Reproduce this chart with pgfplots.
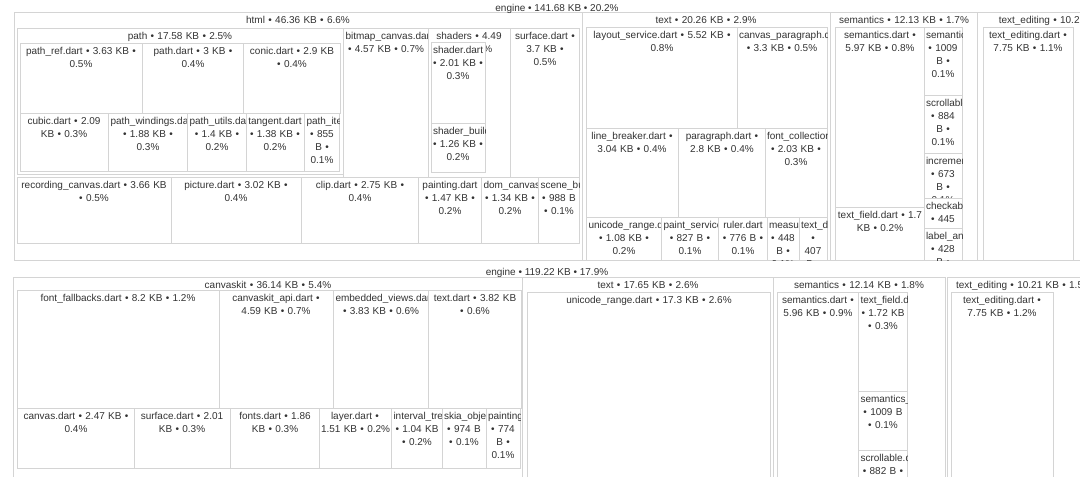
\documentclass[border=0pt]{standalone}
\usepackage{fontspec}
\setmainfont{Liberation Sans}
\usepackage{pgfplots}
\pgfplotsset{compat=1.18}

\tikzset{lbl/.style={anchor=north, inner sep=0pt, align=center, text=black!80,
  font=\fontsize{10}{13}\selectfont, yshift=-4.5pt}}
\pgfplotsset{tile/.style={draw=black!17, fill=white, line width=0.9pt, mark=none}}

% one treemap cell: x0, y0, x1, y1 (pixels, y down), label
\newcommand\tile[5]{%
  \addplot[tile] coordinates {(#1,#2) (#3,#2) (#3,#4) (#1,#4) (#1,#2)};%
  \edef\tilecmd{\noexpand\pgfplotsextra{\noexpand\begin{scope}\noexpand\clip (axis cs:#1,#2) rectangle (axis cs:#3,#4);%
    \noexpand\node[lbl,text width=\the\numexpr#3-#1-4\relax pt] at (axis cs:\the\numexpr(#1+#3)/2\relax,#2) {\unexpanded{#5}};\noexpand\end{scope}}}%
  \tilecmd}

\begin{document}
\hyphenpenalty=10000 \exhyphenpenalty=10000
\begin{tikzpicture}
\begin{axis}[scale only axis, width=1080pt, height=477pt,
  xmin=0, xmax=1080, ymin=0, ymax=477, y dir=reverse, hide axis, clip=true]

% ---- top: html
\tile{14}{12}{582}{260}{html~•~46.36~KB~•~6.6\%}
\tile{17}{28}{343}{174}{path~•~17.58~KB~•~2.5\%}
\tile{20}{43}{142}{113}{path\_ref.dart~•~3.63~KB~•\\0.5\%}
\tile{142}{43}{243}{113}{path.dart~•~3~KB~•\\0.4\%}
\tile{243}{43}{340}{113}{conic.dart~•~2.9~KB\\•~0.4\%}
\tile{20}{113}{108}{171}{cubic.dart~•~2.09\\KB~•~0.3\%}
\tile{108}{113}{187}{171}{path\_windings.dart\\•~1.88~KB~•\\0.3\%}
\tile{187}{113}{246}{171}{path\_utils.dart\\•~1.4~KB~•\\0.2\%}
\tile{246}{113}{304}{171}{tangent.dart\\•~1.38~KB~•\\0.2\%}
\tile{304}{113}{339}{171}{path\_iterator.dart\\•~855\\B~•\\0.1\%}
\tile{343}{28}{428}{177}{bitmap\_canvas.dart\\•~4.57~KB~•~0.7\%}
\tile{428}{28}{510}{177}{shaders~•~4.49\\KB~•~0.6\%}
\tile{431}{42}{485}{123}{shader.dart\\•~2.01~KB~•\\0.3\%}
\tile{431}{123}{485}{172}{shader\_builder.dart\\•~1.26~KB~•\\0.2\%}
\tile{510}{28}{579}{177}{surface.dart~•\\3.7~KB~•\\0.5\%}
\tile{17}{177}{171}{243}{recording\_canvas.dart~•~3.66~KB\\•~0.5\%}
\tile{171}{177}{301}{243}{picture.dart~•~3.02~KB~•\\0.4\%}
\tile{301}{177}{418}{243}{clip.dart~•~2.75~KB~•\\0.4\%}
\tile{418}{177}{481}{243}{painting.dart\\•~1.47~KB~•\\0.2\%}
\tile{481}{177}{538}{243}{dom\_canvas.dart\\•~1.34~KB~•\\0.2\%}
\tile{538}{177}{579}{243}{scene\_builder.dart\\•~988~B\\•~0.1\%}

% ---- top: text
\tile{582}{12}{830}{260}{text~•~20.26~KB~•~2.9\%}
\tile{586}{27}{737}{128}{layout\_service.dart~•~5.52~KB~•\\0.8\%}
\tile{737}{27}{827}{128}{canvas\_paragraph.dart\\•~3.3~KB~•~0.5\%}
\tile{586}{128}{678}{217}{line\_breaker.dart~•\\3.04~KB~•~0.4\%}
\tile{678}{128}{765}{217}{paragraph.dart~•\\2.8~KB~•~0.4\%}
\tile{765}{128}{827}{217}{font\_collection.dart\\•~2.03~KB~•\\0.3\%}
\tile{586}{217}{661}{260}{unicode\_range.dart\\•~1.08~KB~•\\0.2\%}
\tile{661}{217}{718}{260}{paint\_service.dart\\•~827~B~•\\0.1\%}
\tile{718}{217}{767}{260}{ruler.dart\\•~776~B~•\\0.1\%}
\tile{767}{217}{799}{260}{measurement.dart\\•~448\\B~•\\0.1\%}
\tile{799}{217}{827}{260}{text\_direction.dart\\•\\407\\B~•}

% ---- top: semantics
\tile{830}{12}{977}{260}{semantics~•~12.13~KB~•~1.7\%}
\tile{835}{27}{924}{207}{semantics.dart~•\\5.97~KB~•~0.8\%}
\tile{835}{207}{924}{260}{text\_field.dart~•~1.7\\KB~•~0.2\%}
\tile{924}{27}{962}{95}{semantics\_helper.dart\\•~1009\\B~•\\0.1\%}
\tile{924}{95}{962}{153}{scrollable.dart\\•~884\\B~•\\0.1\%}
\tile{924}{153}{962}{198}{incrementable.dart\\•~673\\B~•\\0.1\%}
\tile{924}{198}{962}{228}{checkable.dart\\•~445\\B~•}
\tile{924}{228}{962}{260}{label\_and\_value.dart\\•~428\\B~•}

% ---- top: text_editing
\tile{977}{12}{1150}{260}{text\_editing~•~10.2~KB~•~1.5\%}
\tile{983}{27}{1073}{260}{text\_editing.dart~•\\7.75~KB~•~1.1\%}

% ---- bottom: canvaskit
\tile{13}{277}{522}{490}{canvaskit~•~36.14~KB~•~5.4\%}
\tile{17}{290}{219}{408}{font\_fallbacks.dart~•~8.2~KB~•~1.2\%}
\tile{219}{290}{333}{408}{canvaskit\_api.dart~•\\4.59~KB~•~0.7\%}
\tile{333}{290}{428}{408}{embedded\_views.dart\\•~3.83~KB~•~0.6\%}
\tile{428}{290}{521}{408}{text.dart~•~3.82~KB\\•~0.6\%}
\tile{17}{408}{134}{468}{canvas.dart~•~2.47~KB~•\\0.4\%}
\tile{134}{408}{230}{468}{surface.dart~•~2.01\\KB~•~0.3\%}
\tile{230}{408}{319}{468}{fonts.dart~•~1.86\\KB~•~0.3\%}
\tile{319}{408}{391}{468}{layer.dart~•\\1.51~KB~•~0.2\%}
\tile{391}{408}{442}{468}{interval\_tree.dart\\•~1.04~KB\\•~0.2\%}
\tile{442}{408}{486}{468}{skia\_object\_cache.dart\\•~974~B\\•~0.1\%}
\tile{486}{408}{520}{468}{painting.dart\\•~774\\B~•\\0.1\%}

% ---- bottom: text
\tile{522}{277}{773}{490}{text~•~17.65~KB~•~2.6\%}
\tile{527}{292}{770}{490}{unicode\_range.dart~•~17.3~KB~•~2.6\%}

% ---- bottom: semantics
\tile{773}{277}{945}{490}{semantics~•~12.14~KB~•~1.8\%}
\tile{777}{292}{858}{490}{semantics.dart~•\\5.96~KB~•~0.9\%}
\tile{858}{292}{907}{391}{text\_field.dart\\•~1.72~KB\\•~0.3\%}
\tile{858}{391}{907}{450}{semantics\_helper.dart\\•~1009~B\\•~0.1\%}
\tile{858}{450}{907}{490}{scrollable.dart\\•~882~B~•\\0.1\%}

% ---- bottom: text_editing
\tile{947}{277}{1100}{490}{text\_editing~•~10.21~KB~•~1.5\%}
\tile{951}{292}{1053}{490}{text\_editing.dart~•\\7.75~KB~•~1.2\%}

% engine labels on top of everything
\pgfplotsextra{\coordinate (sw) at (axis cs:0,477); \coordinate (ne) at (axis cs:1080,0);
  \node[lbl, anchor=center, yshift=0pt] at (axis cs:557,4) {engine~•~141.68~KB~•~20.2\%};
  \node[lbl, anchor=center, yshift=0pt] at (axis cs:547,268.5) {engine~•~119.22~KB~•~17.9\%};}

\end{axis}
\pgfresetboundingbox
\path[use as bounding box] (sw) rectangle (ne);
\end{tikzpicture}
\end{document}
